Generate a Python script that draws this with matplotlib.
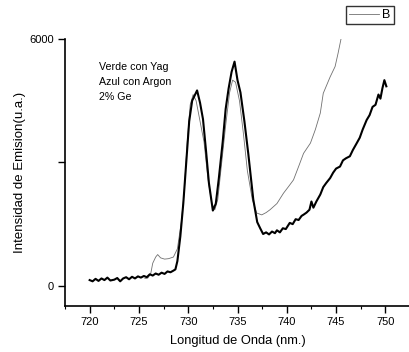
import matplotlib
matplotlib.use("Agg")
import matplotlib.pyplot as plt
from matplotlib.ticker import MultipleLocator

plt.rcParams['font.family'] = ['Liberation Sans', 'DejaVu Sans']

# Thin (gray) curve: "B"
x_thin = [725.6, 725.9, 726.2, 726.4, 726.7, 726.9, 727.2, 727.6, 728.0, 728.5, 728.9,
          729.3, 729.6, 729.9, 730.2, 730.5, 730.8, 731.2, 731.6, 732.0, 732.4, 732.7,
          733.0, 733.4, 733.8, 734.2, 734.5, 734.8, 735.2, 735.6, 736.0, 736.5, 736.95,
          737.46, 737.9, 738.3, 739.0, 739.66, 740.2, 740.68, 741.2, 741.7, 742.4, 742.9,
          743.4, 743.7, 744.4, 744.9, 745.2, 745.5]
y_thin = [180, 190, 300, 550, 700, 760, 680, 650, 660, 700, 900,
          1550, 2300, 3500, 4400, 4650, 4500, 4000, 3500, 2600, 2000, 1850,
          2100, 3000, 3900, 4700, 5000, 4950, 4500, 3700, 2800, 2100, 1770,
          1725, 1780, 1850, 2000, 2250, 2420, 2575, 2900, 3220, 3470, 3800,
          4200, 4680, 5080, 5330, 5650, 6000]

# Thick (black) curve
x_thick = [720.0, 720.3, 720.6, 720.9, 721.2, 721.5, 721.8, 722.1, 722.5, 722.8, 723.1,
           723.4, 723.7, 724.0, 724.3, 724.6, 724.9, 725.2, 725.5, 725.8, 726.1, 726.4,
           726.7, 727.0, 727.3, 727.6, 727.9, 728.2, 728.5, 728.7, 728.9, 729.2, 729.5,
           729.8, 730.1, 730.4, 730.7, 730.9, 731.2, 731.5, 731.8, 732.1, 732.5, 732.8,
           733.1, 733.5, 733.8, 734.1, 734.4, 734.7, 735.0, 735.3, 735.7, 736.1, 736.6,
           737.0, 737.3, 737.6, 737.9, 738.2, 738.5, 738.8, 739.0, 739.3, 739.6, 739.9,
           740.3, 740.6, 740.9, 741.2, 741.5, 741.7, 742.0, 742.3, 742.5, 742.7, 743.0,
           743.4, 743.7, 744.0, 744.4, 744.7, 745.0, 745.4, 745.7, 746.0, 746.4, 746.7,
           747.1, 747.4, 747.7, 748.1, 748.4, 748.7, 749.0, 749.3, 749.5, 749.7, 749.9, 750.1]
y_thick = [140, 110, 170, 120, 180, 140, 200, 130, 150, 190, 110,
           180, 210, 160, 220, 180, 230, 200, 240, 210, 280, 250,
           300, 270, 320, 290, 350, 330, 370, 400, 600, 1200, 2000,
           3000, 4000, 4500, 4650, 4750, 4450, 4050, 3300, 2500, 1830, 2000,
           2600, 3500, 4300, 4800, 5200, 5450, 5000, 4700, 4000, 3200, 2100,
           1550, 1400, 1260, 1300, 1250, 1320, 1280, 1350, 1300, 1400, 1380,
           1530, 1500, 1620, 1600, 1700, 1730, 1780, 1850, 2050, 1900, 2050,
           2220, 2400, 2500, 2620, 2750, 2850, 2900, 3050, 3100, 3150, 3300,
           3470, 3600, 3800, 4030, 4150, 4350, 4400, 4650, 4550, 4800, 5000, 4850]

x_ticks = [720, 725, 730, 735, 740, 745, 750]
y_ticks = [0, 3000, 6000]
y_tick_labels = ['0', '', '6000']

fig = plt.figure(figsize=(4.10, 3.52), dpi=100)
ax = fig.add_axes([65/410, 1 - 306/352, 1 - 65/410, (306 - 39)/352])

ax.plot(x_thin, y_thin, color='#707070', lw=0.6, label='B')
ax.plot(x_thick, y_thick, color='black', lw=1.5)

ax.set_xlim(717.5, 752.5)
ax.set_ylim(-490, 6000)
ax.set_xticks(x_ticks)
ax.xaxis.set_minor_locator(MultipleLocator(2.5))
ax.set_yticks(y_ticks)
ax.set_yticklabels(y_tick_labels)
ax.tick_params(axis='both', which='major', direction='out', length=5, width=1, labelsize=8, pad=3)
ax.tick_params(axis='x', which='minor', direction='out', length=2.5, width=0.8)

for s in ['top', 'right']:
    ax.spines[s].set_visible(False)
for s in ['left', 'bottom']:
    ax.spines[s].set_linewidth(1.2)

ax.set_xlabel('Longitud de Onda (nm.)', fontsize=9.3, labelpad=6)
ax.set_ylabel('Intensidad de Emision(u.a.)', fontsize=9.5, labelpad=2)

ax.text(0.10, 0.915, 'Verde con Yag\nAzul con Argon\n2% Ge', transform=ax.transAxes,
        fontsize=7.7, va='top', ha='left', linespacing=1.65)

leg = fig.legend(loc='upper right', bbox_to_anchor=(394/410, 1 - 6/352), fontsize=9,
                 frameon=True, fancybox=False, handlelength=2.4, borderpad=0.25,
                 handletextpad=0.3, borderaxespad=0)
leg.get_frame().set_edgecolor('black')
leg.get_frame().set_linewidth(1.0)

fig.savefig('out.png', dpi=100)
